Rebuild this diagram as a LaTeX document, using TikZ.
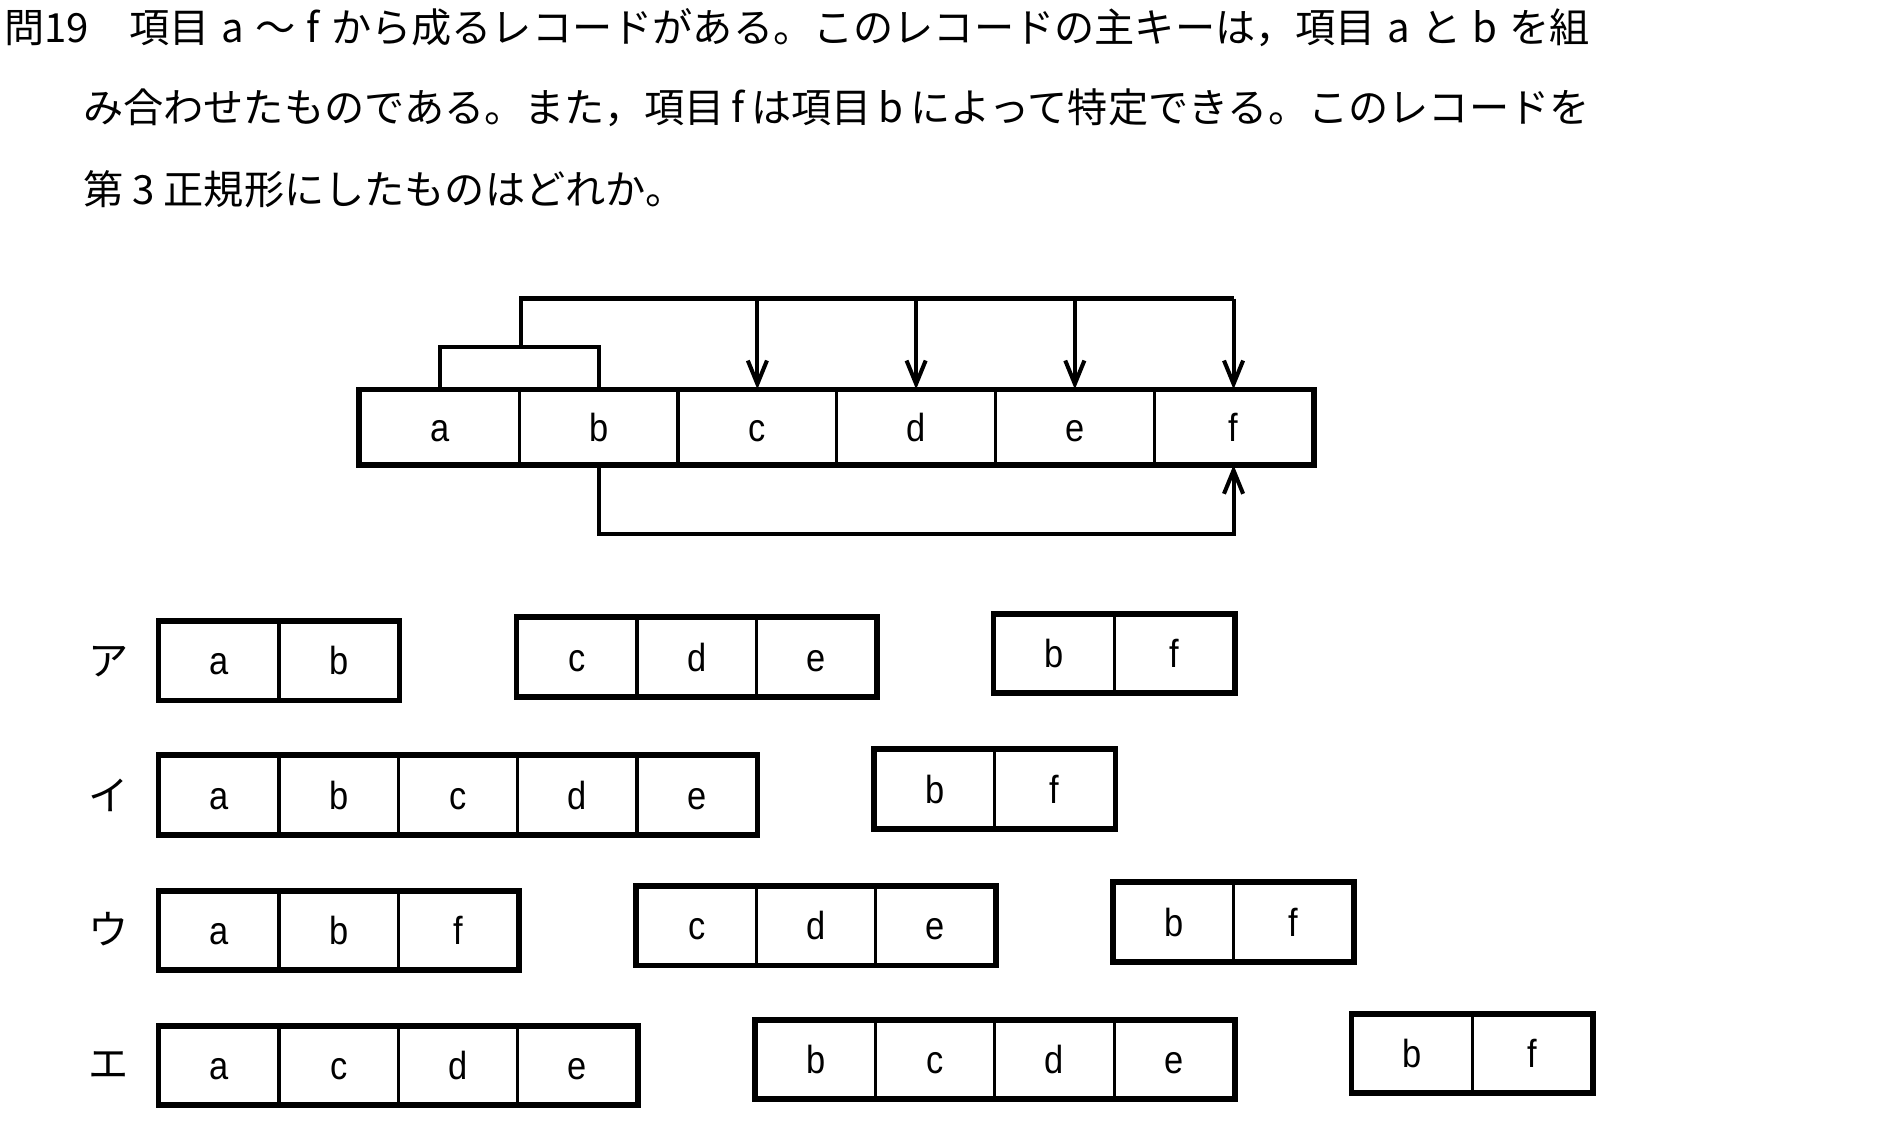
\documentclass[tikz,border=0pt]{standalone}
\usepackage{fontspec}
\newfontfamily\jfont{Noto Sans CJK JP}
\newfontfamily\cellfont[FakeStretch=0.88]{Liberation Sans}
\usetikzlibrary{arrows.meta,calc}
\tikzset{
  cell/.style={draw, line width=0.75pt, inner sep=0pt, minimum width=9.86mm, minimum height=6.35mm,
    font=\cellfont\fontsize{9.2pt}{10pt}\selectfont, text height=6.7pt, text depth=0pt},
  mcell/.style={cell, minimum width=13.117mm, minimum height=6.0mm},
  outer/.style={draw, line width=1.2pt},
  conn/.style={line width=0.95pt},
  arr/.style={conn, -{Straight Barb[length=5.5pt,width=4.5pt,line width=0.95pt]}},
  jtext/.style={font=\jfont\fontsize{9.45pt}{11pt}\selectfont, inner sep=0pt, anchor=base west},
  jlabel/.style={font=\jfont\fontsize{9.45pt}{11pt}\selectfont, inner sep=0pt}
}
\newcommand\recbox[6]{%
  \foreach \t [count=\i from 0] in {#4}{\node[cell] (#1\t) at ({132+98.6*(#2+\i+0.5)},#3) {\t};}
  \draw[outer] (#1#5.north west) rectangle (#1#6.south east);
}
\begin{document}
\begin{tikzpicture}[x=0.1mm, y=-0.1mm]
\fill[white] (0,0) rectangle (1569.4,938.8);
\useasboundingbox (0,0) rectangle (1569.4,938.8);

% question text
\node[jtext] (l1) at (3,35) {\makebox[131mm][s]{問19　項目 a ～ f から成るレコードがある。このレコードの主キーは，項目 a と b を組}};
\node[jtext] (l2) at (68,101) {\makebox[124.5mm][s]{み合わせたものである。また，項目 f は項目 b によって特定できる。このレコードを}};
\node[jtext] (l3) at (68,169) {第 3 正規形にしたものはどれか。};

% main record
\foreach \t [count=\i from 0] in {a,...,f}
  \node[mcell] (m\t) at ({298+131.17*(\i+0.5)},353) {\t};
\draw[outer] (ma.north west) rectangle (mf.south east);

% key bracket and dependency arrows
\draw[conn] (ma.north) -- ++(0,-35) -| (mb.north);
\coordinate (brm) at ($(ma.north east)+(0,-35)$);
\coordinate (tp) at ($(brm)+(0,-40)$);
\draw[conn] (brm) -- (tp) -- (tp -| mf.north);
\foreach \t in {c,d,e,f}
  \draw[arr] (tp -| m\t.north) -- (m\t.north);
\draw[arr] (mb.south) -- ++(0,57) -| (mf.south);

% answer choices
\node[jlabel] (la) at (90,547) {ア};
\node[jlabel] (li) at (90,657) {イ};
\node[jlabel] (lu) at (90,768) {ウ};
\node[jlabel] (le) at (90,880) {エ};

\recbox{A1}{0}{546}{a,b}{a}{b}
\recbox{A2}{3}{543}{c,d,e}{c}{e}
\recbox{A3}{7}{540}{b,f}{b}{f}

\recbox{I1}{0}{657}{a,b,c,d,e}{a}{e}
\recbox{I2}{6}{652}{b,f}{b}{f}

\recbox{U1}{0}{769}{a,b,f}{a}{f}
\recbox{U2}{4}{765}{c,d,e}{c}{e}
\recbox{U3}{8}{762}{b,f}{b}{f}

\recbox{E1}{0}{880.5}{a,c,d,e}{a}{e}
\recbox{E2}{5}{875.5}{b,c,d,e}{b}{e}
\recbox{E3}{10}{870.5}{b,f}{b}{f}
\end{tikzpicture}
\end{document}
